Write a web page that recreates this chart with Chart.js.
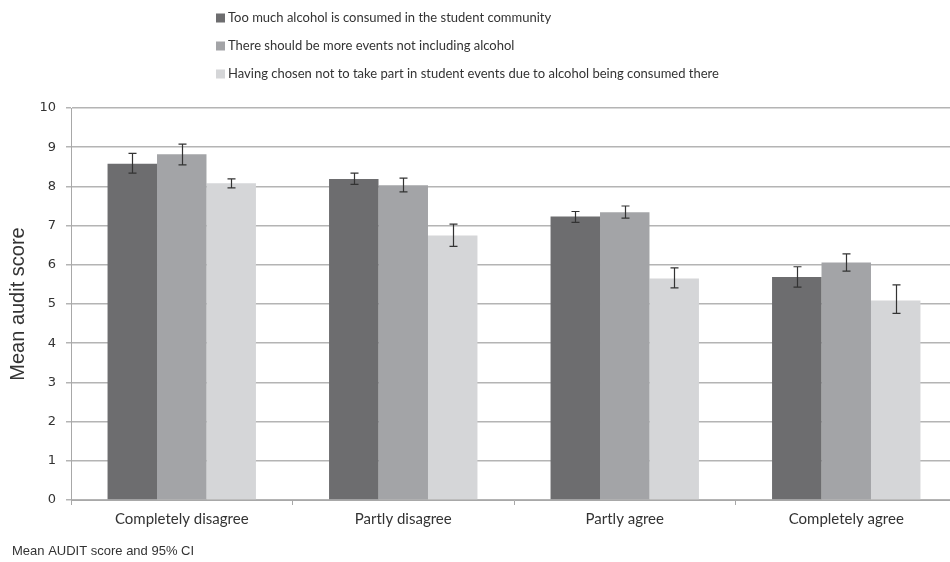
<!DOCTYPE html>
<html>
<head>
<meta charset="utf-8">
<script src="https://cdn.jsdelivr.net/npm/chart.js@4.4.0/dist/chart.umd.min.js"></script>
<style>
  body { margin: 0; background: #fff; }
  #wrap { width: 950px; height: 562px; position: relative; overflow: hidden; }
</style>
</head>
<body>
<div id="wrap"><canvas id="c1" width="957" height="562"></canvas></div>
<script>
const categories = ['Completely disagree', 'Partly disagree', 'Partly agree', 'Completely agree'];
const seriesNames = [
  'Too much alcohol is consumed in the student community',
  'There should be more events not including alcohol',
  'Having chosen not to take part in student events due to alcohol being consumed there'
];
const tooMuch = [8.58, 8.19, 7.23, 5.69];
const moreEvents = [8.82, 8.03, 7.34, 6.06];
const chosenNot = [8.08, 6.75, 5.65, 5.09];
// 95% CI low / high
const tooMuchLow = [8.34, 8.05, 7.08, 5.43];
const tooMuchHigh = [8.84, 8.34, 7.36, 5.95];
const moreEventsLow = [8.55, 7.86, 7.19, 5.84];
const moreEventsHigh = [9.08, 8.21, 7.50, 6.28];
const chosenNotLow = [7.96, 6.47, 5.41, 4.76];
const chosenNotHigh = [8.19, 7.04, 5.92, 5.49];
const yTicks = [0, 1, 2, 3, 4, 5, 6, 7, 8, 9, 10];

const colors = ['#6d6d6f', '#a3a4a7', '#d5d6d8'];
const ciLow = [tooMuchLow, moreEventsLow, chosenNotLow];
const ciHigh = [tooMuchHigh, moreEventsHigh, chosenNotHigh];

const errorBars = {
  id: 'errorBars',
  afterDatasetsDraw(chart) {
    const ctx = chart.ctx;
    const y = chart.scales.y;
    ctx.save();
    ctx.strokeStyle = '#333';
    ctx.lineWidth = 1.2;
    chart.data.datasets.forEach((ds, di) => {
      const meta = chart.getDatasetMeta(di);
      meta.data.forEach((bar, i) => {
        const x = Math.round(bar.x) + 0.5;
        const lo = y.getPixelForValue(ciLow[di][i]);
        const hi = y.getPixelForValue(ciHigh[di][i]);
        ctx.beginPath();
        ctx.moveTo(x, lo); ctx.lineTo(x, hi);
        ctx.moveTo(x - 4, lo); ctx.lineTo(x + 4, lo);
        ctx.moveTo(x - 4, hi); ctx.lineTo(x + 4, hi);
        ctx.stroke();
      });
    });
    ctx.restore();
  }
};

const legendAndNote = {
  id: 'legendAndNote',
  afterDraw(chart) {
    const ctx = chart.ctx;
    ctx.save();
    ctx.font = '13px Lato';
    ctx.textBaseline = 'middle';
    seriesNames.forEach((name, i) => {
      const yy = 18 + i * 28;
      ctx.fillStyle = colors[i];
      ctx.fillRect(216, yy - 4.5, 9, 9);
      ctx.fillStyle = '#333';
      ctx.fillText(name, 228, yy);
    });
    ctx.font = '13px "Liberation Sans"';
    ctx.fillStyle = '#333';
    ctx.fillText('Mean AUDIT score and 95% CI', 12, 551);
    ctx.restore();
  }
};

new Chart(document.getElementById('c1').getContext('2d'), {
  type: 'bar',
  data: {
    labels: categories,
    datasets: [
      { label: seriesNames[0], data: tooMuch, backgroundColor: colors[0] },
      { label: seriesNames[1], data: moreEvents, backgroundColor: colors[1] },
      { label: seriesNames[2], data: chosenNot, backgroundColor: colors[2] }
    ]
  },
  options: {
    responsive: false,
    animation: false,
    layout: { padding: { top: 108, right: 0, bottom: 22, left: 0 } },
    datasets: { bar: { categoryPercentage: 0.67, barPercentage: 1.0 } },
    plugins: { legend: { display: false }, tooltip: { enabled: false } },
    scales: {
      x: {
        grid: { display: true, drawOnChartArea: false, offset: true, color: '#a8a8a8', tickLength: 5 },
        border: { color: '#a8a8a8' },
        ticks: { color: '#333', font: { family: 'Lato', size: 15 }, padding: 5 },
        afterFit(s) { s.height = 40; }
      },
      y: {
        min: 0, max: 10,
        afterBuildTicks(s) { s.ticks = yTicks.map(v => ({ value: v })); },
        grid: { color: '#b4b4b4', lineWidth: 1.5, tickLength: 5 },
        border: { color: '#a8a8a8' },
        ticks: { color: '#333', font: { family: 'DejaVu Sans', size: 13 }, padding: 10 },
        title: { display: true, text: 'Mean audit score', color: '#333', font: { family: 'Liberation Sans', size: 20 }, padding: { top: 6, bottom: 0 } },
        afterFit(s) { s.width = 71; }
      }
    }
  },
  plugins: [errorBars, legendAndNote]
});
</script>
</body>
</html>
